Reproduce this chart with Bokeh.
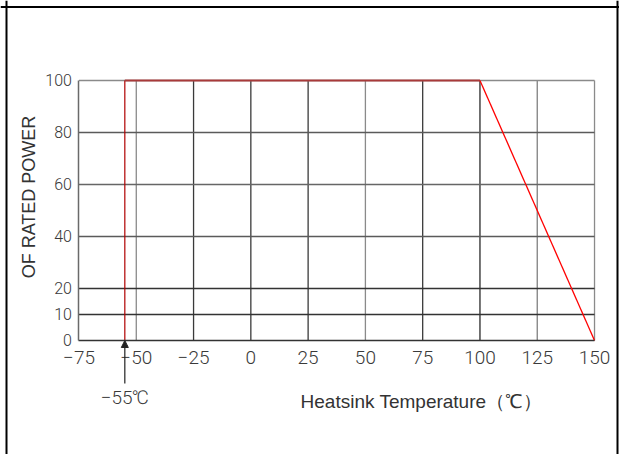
import math
from bokeh.plotting import figure
from bokeh.models import Range1d, FixedTicker, Label, Arrow, NormalHead, Span, ColumnDataSource
from bokeh.embed import file_html
from bokeh.resources import INLINE

# ---- data ----
temps = [-55, -55, 100, 150]          # derating curve, heatsink temperature (°C)
power = [0, 100, 100, 0]              # % of rated power
x_ticks = [-75, -50, -25, 0, 25, 50, 75, 100, 125, 150]
x_tick_labels = ["−75", "−50", "−25", "0", "25", "50", "75", "100", "125", "150"]
y_ticks = [0, 10, 20, 40, 60, 80, 100]
y_tick_labels = ["0", "10", "20", "40", "60", "80", "100"]
min_temp_label = "−55℃"
x_title = "Heatsink Temperature（℃）"
y_title = "OF RATED POWER"

# ---- styles ----
vgrid_colors = ["#8a8a8a", "#3a3a3a", "#3a3a3a", "#3a3a3a", "#8a8a8a", "#3a3a3a", "#2a2a2a", "#808080", "#8a8a8a"]
hgrid_colors = ["#333333", "#333333", "#5a5a5a", "#666666", "#5a5a5a", "#8a8a8a"]
curve_colors = ["#b00000", "#a83a3a", "#ff0000"]
curve_widths = [1.2, 2.0, 1.3]

W, H = 619, 454
p = figure(width=W, height=H, x_range=Range1d(-109.26, 160.9), y_range=Range1d(-43.85, 130.77),
           output_backend="svg", toolbar_location=None, min_border=0)
p.outline_line_color = None
p.grid.visible = False
p.background_fill_color = "white"
p.border_fill_color = "white"

# grid lines (bounded to the data area)
vx = x_ticks[1:]
p.segment(x0=vx, y0=[y_ticks[0]] * len(vx), x1=vx, y1=[y_ticks[-1]] * len(vx),
          line_color=vgrid_colors, line_width=1.3)
hy = y_ticks[1:]
p.segment(x0=[x_ticks[0]] * len(hy), y0=hy, x1=[x_ticks[-1]] * len(hy), y1=hy,
          line_color=hgrid_colors, line_width=1.3)

# derating curve
src = ColumnDataSource(dict(x0=temps[:-1], y0=power[:-1], x1=temps[1:], y1=power[1:],
                            c=curve_colors, w=curve_widths))
p.segment(x0="x0", y0="y0", x1="x1", y1="y1", line_color="c", line_width="w", source=src)

# axes
xa = p.xaxis[0]
xa.fixed_location = y_ticks[0]
xa.bounds = (x_ticks[0], x_ticks[-1])
xa.ticker = FixedTicker(ticks=x_ticks)
xa.major_label_overrides = {t: l for t, l in zip(x_ticks, x_tick_labels)}
xa.axis_line_color = "#333333"
xa.axis_line_width = 1.5
xa.major_tick_out = 0
xa.major_tick_in = 0
xa.minor_tick_line_color = None
xa.major_label_standoff = 11
xa.major_label_text_font = "Roboto Light"
xa.major_label_text_font_size = "19px"
xa.major_label_text_color = "#3a3a3a"

ya = p.yaxis[0]
ya.fixed_location = x_ticks[0]
ya.bounds = (y_ticks[0], y_ticks[-1])
ya.ticker = FixedTicker(ticks=y_ticks)
ya.major_label_overrides = {t: l for t, l in zip(y_ticks, y_tick_labels)}
ya.axis_line_color = "#6a6a6a"
ya.axis_line_width = 1.5
ya.major_tick_out = 0
ya.major_tick_in = 0
ya.minor_tick_line_color = None
ya.major_label_standoff = 7
ya.major_label_text_font = "Roboto Light"
ya.major_label_text_font_size = "16px"
ya.major_label_text_color = "#3a3a3a"

# arrow marking the minimum temperature
p.add_layout(Arrow(end=NormalHead(size=7, fill_color="#222222", line_color="#222222"),
                   x_start=temps[0], y_start=-16.5, x_end=temps[0], y_end=power[0],
                   line_color="#222222", line_width=1.2))
p.add_layout(Label(x=temps[0], y=-22, text=min_temp_label, text_align="center", text_baseline="middle",
                   text_font="Roboto Light", text_font_size="19px", text_color="#3a3a3a"))

# axis titles
p.add_layout(Label(x=21.7, y=-23.3, text=x_title, text_align="left", text_baseline="alphabetic",
                   text_font="Liberation Sans", text_font_size="19px", text_color="#333333"))
p.add_layout(Label(x=-97, y=55.2, text=y_title, angle=math.pi / 2, text_align="center",
                   text_baseline="middle", text_font="Liberation Sans", text_font_size="18px",
                   text_color="#333333"))

# outer frame (top, left, right); screen y of a horizontal span counts from the bottom
p.add_layout(Span(location=H - 6.5, dimension="width", location_units="screen", line_color="black", line_width=2))
p.add_layout(Span(location=6, dimension="height", location_units="screen", line_color="black", line_width=2))
p.add_layout(Span(location=617, dimension="height", location_units="screen", line_color="black", line_width=2))

open("out.html", "w").write(file_html(p, INLINE))
